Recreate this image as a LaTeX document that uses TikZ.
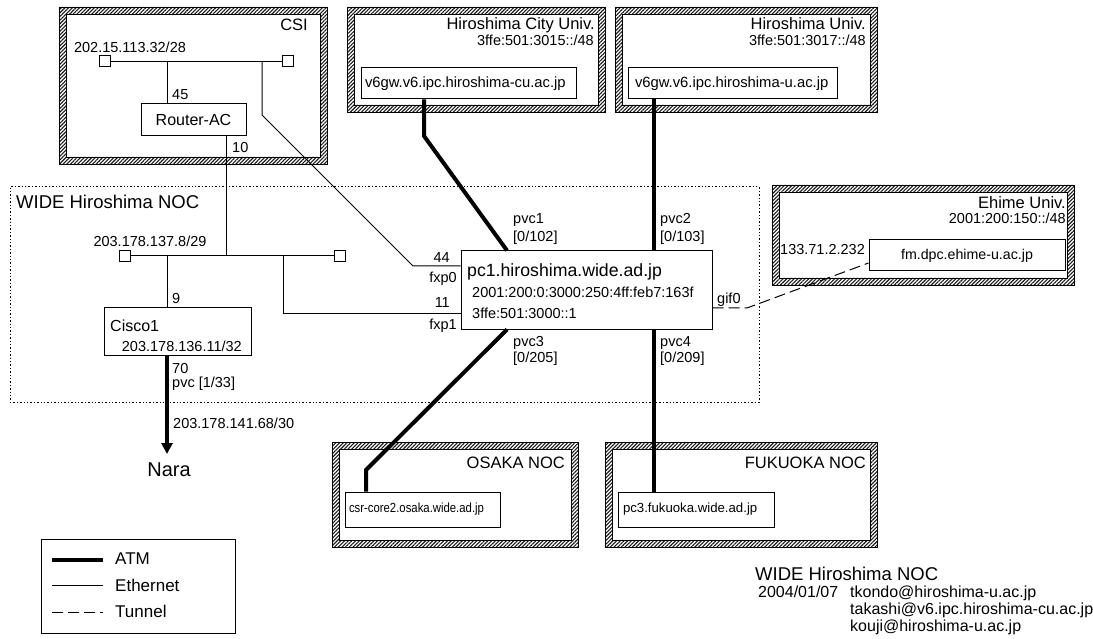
\documentclass[tikz,border=0pt]{standalone}
\usepackage{fontspec}
\setmainfont{Liberation Sans}
\newfontfamily\narrowsans[FakeStretch=0.86]{Liberation Sans}
\usetikzlibrary{arrows.meta,patterns.meta}

\newcommand\hatchframe[4]{%
  \fill[pattern={Lines[angle=45,distance=2.6pt,line width=1.1pt]},pattern color=black!90,even odd rule]
    (#1,#2) rectangle (#3,#4) (#1+7,#2+7) rectangle (#3-7,#4-7);
  \draw[line width=0.9pt] (#1,#2) rectangle (#3,#4) (#1+7,#2+7) rectangle (#3-7,#4-7);}

\tikzset{
  lab/.style={inner sep=0pt, font=\fontsize{14.5}{16}\selectfont},
  ttl/.style={inner sep=0pt, font=\fontsize{16.5}{18}\selectfont},
  big/.style={inner sep=0pt, font=\fontsize{18.5}{20}\selectfont},
  box/.style={draw, line width=1pt, inner sep=0pt},
  eth/.style={line width=1pt},
  atm/.style={line width=4pt},
  tun/.style={line width=1pt, dash pattern=on 11pt off 5pt},
  sqr/.style={draw, line width=1pt, minimum size=11pt, inner sep=0pt, fill=white},
}

\begin{document}
\begin{tikzpicture}[x=1pt,y=-1pt]
\fill[white] (0,0) rectangle (1093,639);
\useasboundingbox (0,0) rectangle (1093,639);

% dotted NOC area
\node[draw, line width=1pt, dash pattern=on 1.4pt off 2pt, minimum width=749pt, minimum height=215pt, inner sep=0pt] (noc) at (384.5,294.5) {};
\node[big, anchor=base west] (noct) at (16,209) {WIDE Hiroshima NOC};

% hatched frames
\hatchframe{59}{7}{327}{164}
\hatchframe{347}{7}{605}{112}
\hatchframe{615}{7}{877}{112}
\hatchframe{772}{185}{1074}{285}
\hatchframe{332}{442}{578}{547}
\hatchframe{605}{442}{877}{547}

% frame titles
\node[ttl, anchor=base east] (csit) at (308,31) {CSI};
\node[ttl, anchor=base east] (hcut) at (595,30) {Hiroshima City Univ.};
\node[lab, anchor=base east] (hcua) at (594,46) {3ffe:501:3015::/48};
\node[ttl, anchor=base east] (hut) at (866,30) {Hiroshima Univ.};
\node[lab, anchor=base east] (hua) at (866,46) {3ffe:501:3017::/48};
\node[ttl, anchor=base east] (eht) at (1066,209) {Ehime Univ.};
\node[lab, anchor=base east] (eha) at (1066,224) {2001:200:150::/48};
\node[ttl, anchor=base east] (ost) at (565,468) {OSAKA NOC};
\node[ttl, anchor=base east] (fkt) at (866,468) {FUKUOKA NOC};

% CSI segment
\node[sqr] (sqA) at (104.5,61.5) {};
\node[sqr] (sqB) at (288,61.5) {};
\node[lab, anchor=base] (csin) at (130,53) {202.15.113.32/28};
\node[box, minimum width=105pt, minimum height=32pt, font=\fontsize{16}{18}\selectfont] (router) at (193.5,120) {Router-AC};
\node[lab, anchor=base west] (l45) at (172,100) {45};
\node[lab, anchor=base west] (l10) at (232,153) {10};

% NOC segment
\node[sqr] (sqC) at (124.5,256) {};
\node[sqr] (sqD) at (339.5,256) {};
\node[lab, anchor=base] (nocn) at (150,247) {203.178.137.8/29};
\node[box, minimum width=147pt, minimum height=47pt] (cisco) at (177.5,331.5) {};
\node[inner sep=0pt, anchor=base west, font=\fontsize{16}{18}\selectfont] (ciscot) at (110,331) {Cisco1};
\node[lab, anchor=base east] (ciscoa) at (242,351) {203.178.136.11/32};
\node[lab, anchor=base west] (l9) at (172,303) {9};
\node[lab, anchor=base west] (l70) at (172,373) {70};
\node[lab, anchor=base west] (lpvc) at (172,387) {pvc [1/33]};
\node[lab, anchor=base west] (naran) at (173,428) {203.178.141.68/30};
\node[inner sep=0pt, anchor=base, font=\fontsize{20}{22}\selectfont] (nara) at (169,476) {Nara};

% pc1
\node[box, minimum width=251pt, minimum height=78pt] (pc1) at (586.5,290) {};
\node[inner sep=0pt, anchor=base west, font=\fontsize{17.7}{20}\selectfont] (pc1t) at (467,277) {pc1.hiroshima.wide.ad.jp};
\node[lab, anchor=base west] (pc1a) at (472,298) {2001:200:0:3000:250:4ff:feb7:163f};
\node[lab, anchor=base west] (pc1b) at (472,319) {3ffe:501:3000::1};
\node[lab, anchor=base east] (l44) at (450,262) {44};
\node[lab, anchor=base east] (lf0) at (457,283) {fxp0};
\node[lab, anchor=base east] (l11) at (450,308) {11};
\node[lab, anchor=base east] (lf1) at (457,330) {fxp1};
\node[lab, anchor=base west] (p1a) at (513,224) {pvc1};
\node[lab, anchor=base west] (p1b) at (513,242) {[0/102]};
\node[lab, anchor=base west] (p2a) at (660,224) {pvc2};
\node[lab, anchor=base west] (p2b) at (660,242) {[0/103]};
\node[lab, anchor=base west] (p3a) at (513,346) {pvc3};
\node[lab, anchor=base west] (p3b) at (513,362) {[0/205]};
\node[lab, anchor=base west] (p4a) at (660,346) {pvc4};
\node[lab, anchor=base west] (p4b) at (660,362) {[0/209]};
\node[lab, anchor=base west] (lgif) at (717,303) {gif0};

% remote routers
\node[box, minimum height=31pt, inner xsep=4pt, text width=207pt, align=left, font=\fontsize{14.8}{16}\selectfont] (hcu) at (468.5,83.5) {\mbox{v6gw.v6.ipc.hiroshima-cu.ac.jp}};
\node[box, minimum height=31pt, inner xsep=7pt, text width=195pt, align=left, font=\fontsize{14.8}{16}\selectfont] (hu) at (732.5,83.5) {\mbox{v6gw.v6.ipc.hiroshima-u.ac.jp}};
\node[box, minimum width=196pt, minimum height=31pt, font=\fontsize{14.2}{16}\selectfont] (fm) at (967,255.5) {fm.dpc.ehime-u.ac.jp};
\node[lab, anchor=base west] (fma) at (780,255) {133.71.2.232};
\node[box, minimum height=35pt, inner xsep=4pt, text width=147pt, align=left, font=\narrowsans\fontsize{13.2}{15}\selectfont] (osaka) at (422.5,509.5) {\mbox{csr-core2.osaka.wide.ad.jp}};
\node[box, minimum height=35pt, inner xsep=5pt, text width=146pt, align=left, font=\fontsize{13.2}{15}\selectfont] (fuk) at (696,509.5) {\mbox{pc3.fukuoka.wide.ad.jp}};

% helper coordinates
\coordinate (c45) at (167,61.5);
\coordinate (e1) at (262,61.5);
\coordinate (e2) at (262,115);
\coordinate (e3) at (413,266);
\coordinate (j10) at (226,256);
\coordinate (j9) at (167,256);
\coordinate (j11) at (283,256);
\coordinate (j11b) at (283,313);
\coordinate (tip) at (167,454);
\coordinate (kA) at (424,136);
\coordinate (kB) at (507,0);
\coordinate (kC) at (654,0);
\coordinate (kD) at (366,470);
\coordinate (t2) at (747,308);
\coordinate (t3) at (869,263);

% Ethernet
\draw[eth] (sqA) -- (sqB);
\draw[eth] (c45) -- (router.north -| c45);
\draw[eth] (e1) -- (e2) -- (e3) -- (pc1.west |- e3);
\draw[eth] (router.south -| j10) -- (j10);
\draw[eth] (sqC) -- (sqD);
\draw[eth] (j9) -- (cisco.north -| j9);
\draw[eth] (j11) -- (j11b) -- (pc1.west |- j11b);

% ATM
\draw[atm, -{Triangle[length=11pt,width=11pt]}] (cisco.south -| j9) -- (tip);
\draw[atm] (hcu.south -| kA) -- (kA) -- (pc1.north -| kB);
\draw[atm] (hu.south -| kC) -- (pc1.north -| kC);
\draw[atm] (pc1.south -| kB) -- (kD) -- (osaka.north -| kD);
\draw[atm] (pc1.south -| kC) -- (fuk.north -| kC);

% Tunnel
\draw[tun] (pc1.east |- t2) -- (t2) -- (fm.west |- t3);

% legend
\node[draw, line width=1pt, minimum width=194pt, minimum height=94pt, inner sep=0pt] (legend) at (138,586) {};
\draw[atm] (52,560) -- (103,560);
\draw[eth] (52,585) -- (103,585);
\draw[tun] (52,612) -- (103,612);
\node[inner sep=0pt, anchor=base west, font=\fontsize{17}{19}\selectfont] (lgA) at (115,564) {ATM};
\node[inner sep=0pt, anchor=base west, font=\fontsize{17}{19}\selectfont] (lgE) at (115,591) {Ethernet};
\node[inner sep=0pt, anchor=base west, font=\fontsize{17}{19}\selectfont] (lgT) at (115,617) {Tunnel};

% credits
\node[big, anchor=base west] (crt) at (755,580) {WIDE Hiroshima NOC};
\node[inner sep=0pt, anchor=base west, font=\fontsize{16}{18}\selectfont] (crd) at (758,597) {2004/01/07};
\node[inner sep=0pt, anchor=base west, font=\fontsize{16}{18}\selectfont] (cr1) at (850,597) {tkondo@hiroshima-u.ac.jp};
\node[inner sep=0pt, anchor=base west, font=\fontsize{16}{18}\selectfont] (cr2) at (850,614) {takashi@v6.ipc.hiroshima-cu.ac.jp};
\node[inner sep=0pt, anchor=base west, font=\fontsize{16}{18}\selectfont] (cr3) at (850,631) {kouji@hiroshima-u.ac.jp};
\end{tikzpicture}
\end{document}
